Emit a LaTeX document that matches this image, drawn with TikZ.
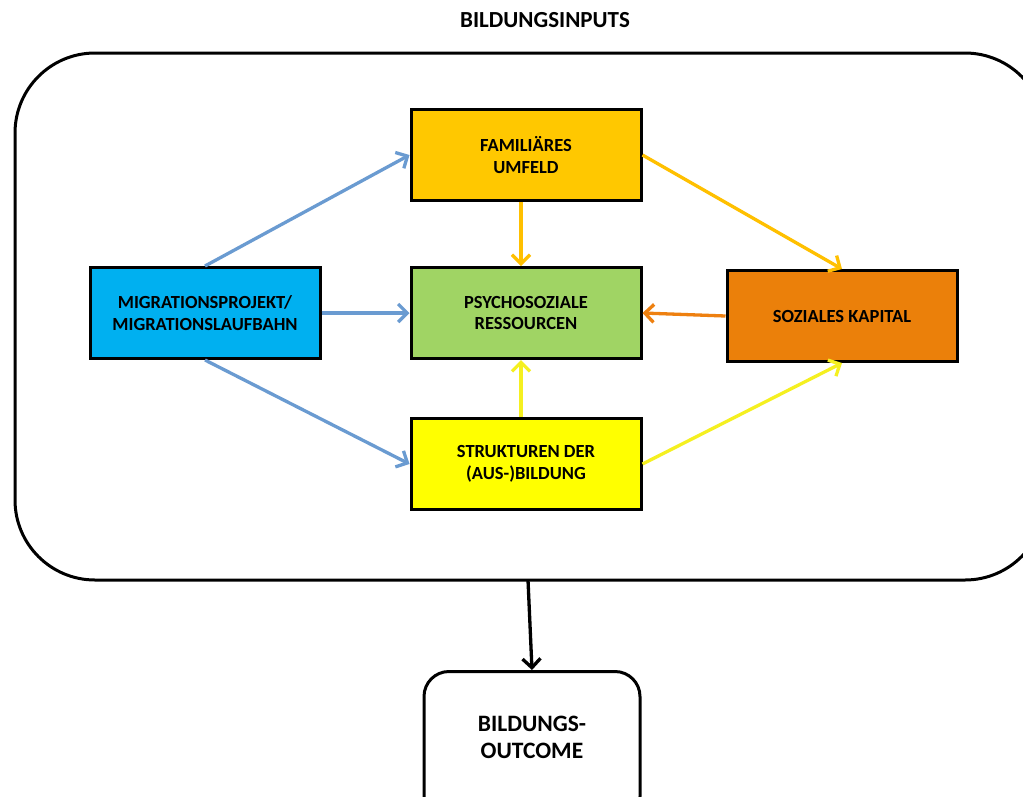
\documentclass[tikz,border=0pt]{standalone}
\usepackage{fontspec}
\setmainfont{Carlito}
\usetikzlibrary{arrows.meta,positioning}
\definecolor{cblue}{HTML}{00B0F0}
\definecolor{cgold}{HTML}{FFC800}
\definecolor{cgreen}{HTML}{A0D464}
\definecolor{corange}{HTML}{EB800A}
\definecolor{cyel}{HTML}{FFFF00}
\definecolor{ablue}{HTML}{6A9BD1}
\definecolor{agold}{HTML}{FFC000}
\definecolor{aorange}{HTML}{EE8010}
\definecolor{ayel}{HTML}{F5F020}
\tikzset{
  box/.style={draw=black,line width=3pt,minimum width=230pt,minimum height=91pt,
    align=center,font=\fontsize{18.5}{21.5}\selectfont\bfseries,inner sep=0pt},
  arr/.style={line width=3.3pt,-{Straight Barb[length=9pt,width=18pt,line width=3.3pt]}},
}
\begin{document}
\begin{tikzpicture}[x=1pt,y=-1pt]
\useasboundingbox (0,0) rectangle (1023,796);
\fill[white] (0,0) rectangle (1023,796);
\node[font=\fontsize{23}{26}\selectfont\bfseries] (title) at (545,20) {BILDUNGSINPUTS};
\draw[line width=3pt,rounded corners=80pt] (15,53) rectangle (1045,580);
\coordinate (bigbot) at (528,580);
\node[box,fill=cgold] (fam) at (526,155) {FAMILIÄRES\\UMFELD};
\node[box,fill=cgreen] (psy) at (526,313) {PSYCHOSOZIALE\\RESSOURCEN};
\node[box,fill=cblue] (mig) at (205,313) {MIGRATIONSPROJEKT/\\MIGRATIONSLAUFBAHN};
\node[box,fill=corange] (soz) at (842,316) {SOZIALES KAPITAL};
\node[box,fill=cyel] (str) at (526,464) {STRUKTUREN DER\\(AUS-)BILDUNG};
\node[draw=black,line width=3pt,rounded corners=25pt,minimum width=216pt,minimum height=150pt,
  anchor=north] (out) at (532,670) {};
\node[font=\fontsize{23.5}{27}\selectfont\bfseries,align=center] (outtxt) at (532,737) {BILDUNGS-\\OUTCOME};
\draw[arr,ablue] (mig.north) -- (fam.west);
\draw[arr,ablue] (mig.east) -- (psy.west);
\draw[arr,ablue] (mig.south) -- (str.west);
\draw[arr,agold] (fam.south -| 521,0) -- (psy.north -| 521,0);
\draw[arr,agold] (fam.east) -- (soz.north);
\draw[arr,aorange] (soz.west) -- (psy.east);
\draw[arr,ayel] (str.north -| 521,0) -- (psy.south -| 521,0);
\draw[arr,ayel] (str.east) -- (soz.south);
\draw[arr,black] (bigbot) -- (out.north);
\end{tikzpicture}
\end{document}
